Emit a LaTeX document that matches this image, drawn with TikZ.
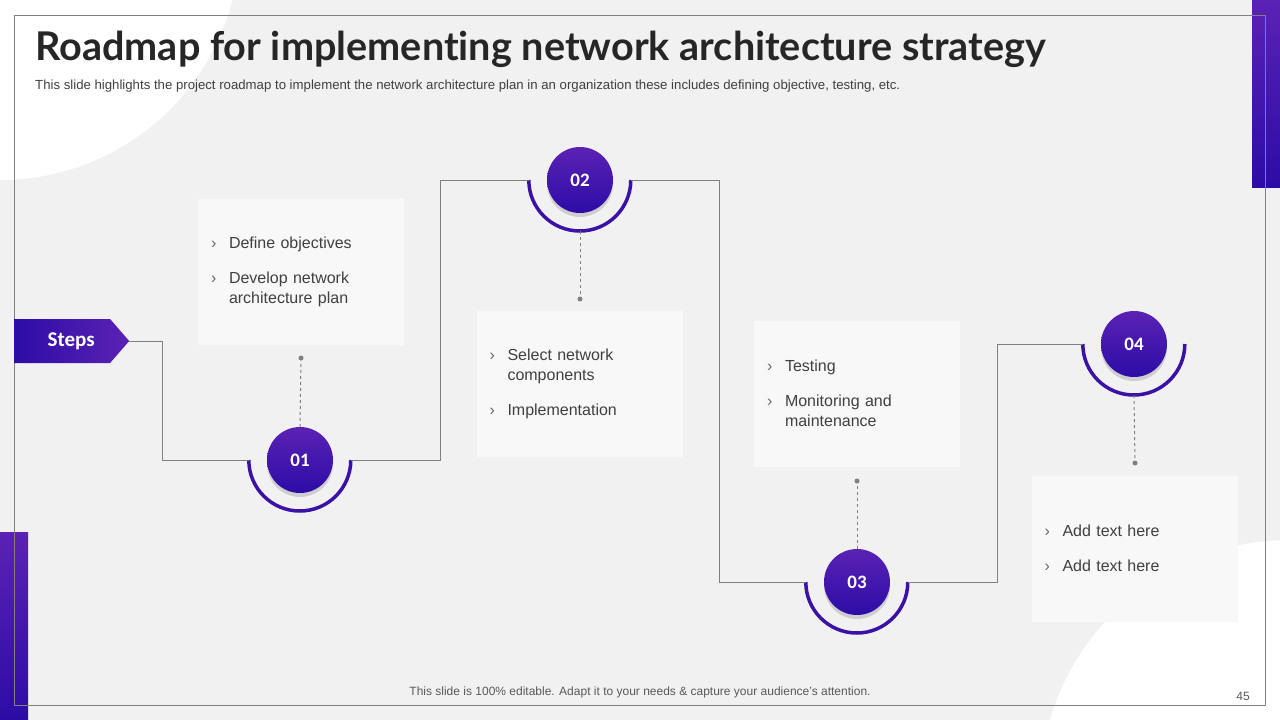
\documentclass[tikz,border=0pt]{standalone}
\usepackage{fontspec}
\setmainfont{Liberation Sans}
\newfontfamily\headfont{Lato}[Ligatures=NoCommon]
\newfontfamily\tagfont{Carlito}
\usetikzlibrary{shapes.symbols, shadows}
\definecolor{slidebg}{HTML}{F1F1F1}
\definecolor{cardfill}{HTML}{F8F8F8}
\definecolor{ink}{HTML}{404040}
\definecolor{vioTop}{HTML}{5B22B4}
\definecolor{vioBot}{HTML}{2C0CA6}
\definecolor{vioRing}{HTML}{3B11A6}
\definecolor{wire}{HTML}{808080}
\newcommand{\rbul}{\makebox[18pt][l]{\color{black!60}›}}
\newcommand{\rind}{\hspace*{18pt}}

\begin{document}
\begin{tikzpicture}[x=1pt, y=-1pt,
  link/.style={draw=wire, line width=1pt},
  guide/.style={draw=wire, line width=1pt, dash pattern=on 3pt off 3pt},
  knob/.style={circle, fill=wire, inner sep=0pt, minimum size=5pt},
  card/.style={fill=cardfill, minimum width=206pt, minimum height=146pt,
               text width=180pt, align=left, inner sep=0pt, text=ink,
               font=\fontsize{16}{19.5}\selectfont},
  badge/.style={circle, minimum size=66pt, inner sep=0pt, top color=vioTop,
                bottom color=vioBot, text=white,
                font=\tagfont\bfseries\fontsize{19}{19}\selectfont,
                drop shadow={shadow xshift=0pt, shadow yshift=-4pt, opacity=.3}},
  halo/.style={circle, minimum size=102pt, inner sep=0pt},
  ring/.style={draw=vioRing, line width=3.5pt},
  tag/.style={signal, signal to=east, signal pointer angle=98, minimum width=115pt,
              minimum height=44pt, inner sep=0pt, left color=vioBot, right color=vioTop,
              text=white, font=\tagfont\bfseries\fontsize{21}{21}\selectfont}]
\useasboundingbox (0,0) rectangle (1280,720);
% Slide backdrop.
\begin{scope}
  \clip (0,0) rectangle (1280,720);
  \fill[slidebg] (0,0) rectangle (1280,720);
  \fill[white] (0,-60) circle[radius=240pt];
  \fill[white] (1290,790) circle[radius=250pt];
  \shade[top color=vioTop, bottom color=vioBot] (1252,0) rectangle (1280,187);
  \shade[top color=vioTop, bottom color=vioBot] (0,532) rectangle (28,720);
\end{scope}
\draw[wire, line width=1pt] (14.5,15.5) rectangle (1265.5,705.5);
% Heading.
\node[anchor=base west, inner sep=0pt, text=black!85,
      font=\headfont\bfseries\fontsize{39.6}{40}\selectfont] (title) at (35,60)
  {Roadmap for implementing network architecture strategy};
\node[anchor=base west, inner sep=0pt, text=ink, font=\fontsize{13.2}{13.2}\selectfont] (subtitle) at (35,89.5)
  {This slide highlights the project roadmap to implement the network architecture plan in an organization these includes defining objective, testing, etc.};
% Step markers along the route.
\node[tag, anchor=west] (steps) at (14,341) {\hspace*{18pt}Steps};
\node[halo] (halo1) at (300,460) {};
\node[halo] (halo2) at (580,180) {};
\node[halo] (halo3) at (857,582) {};
\node[halo] (halo4) at (1134,344) {};
\draw[ring] (halo1.west) arc[start angle=180, end angle=360, radius=51pt];
\draw[ring] (halo2.west) arc[start angle=180, end angle=360, radius=51pt];
\draw[ring] (halo3.west) arc[start angle=180, end angle=360, radius=51pt];
\draw[ring] (halo4.west) arc[start angle=180, end angle=360, radius=51pt];
\node[badge] (step1) at (300,460) {01};
\node[badge] (step2) at (580,180) {02};
\node[badge] (step3) at (857,582) {03};
\node[badge] (step4) at (1134,344) {04};
% Route joining the markers.
\draw[link] (steps.east) -- ++(33,0) |- (halo1.west);
\draw[link] (halo1.east) -- ++(89,0) |- (halo2.west);
\draw[link] (halo2.east) -- ++(88,0) |- (halo3.west);
\draw[link] (halo3.east) -- ++(89,0) |- (halo4.west);
% Text cards with their pins.
\node[card] (card1) at (301,272)
  {\rbul Define objectives\\[15.5pt]\rbul Develop network\\\rind architecture plan};
\node[card] (card2) at (579.5,384)
  {\rbul Select network\\\rind components\\[15.5pt]\rbul Implementation};
\node[card] (card3) at (857,393.5)
  {\rbul Testing\\[15.5pt]\rbul Monitoring and\\\rind maintenance};
\node[card] (card4) at (1134.5,548.5)
  {\rbul Add text here\\[15.5pt]\rbul Add text here};
\node[knob] (pin1) at (301,358) {};
\node[knob] (pin2) at (580,299) {};
\node[knob] (pin3) at (857,481) {};
\node[knob] (pin4) at (1135,463) {};
\draw[guide] (step1.north) -- (pin1);
\draw[guide] (halo2.south) -- (pin2);
\draw[guide] (step3.north) -- (pin3);
\draw[guide] (halo4.south) -- (pin4);
% Footer.
\node[anchor=base, inner sep=0pt, text=black!65, font=\fontsize{12}{12}\selectfont] (footer) at (640,695)
  {This slide is 100\% editable. Adapt it to your needs \& capture your audience’s attention.};
\node[anchor=base, inner sep=0pt, text=black!65, font=\fontsize{12}{12}\selectfont] (pageno) at (1243,700) {45};
\end{tikzpicture}
\end{document}
